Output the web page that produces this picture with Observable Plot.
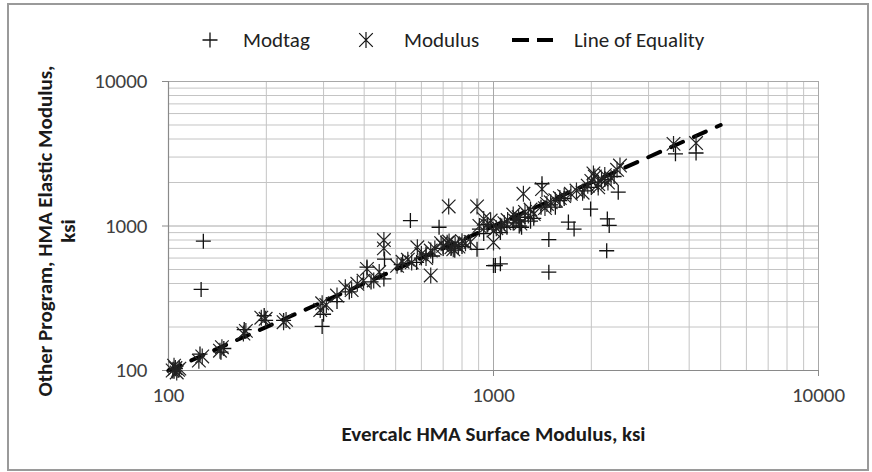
<!DOCTYPE html>
<html>
<head>
<meta charset="utf-8">
<script src="https://cdn.jsdelivr.net/npm/d3@7"></script>
<script src="https://cdn.jsdelivr.net/npm/@observablehq/plot@0.6"></script>
<style>
  html, body { margin: 0; padding: 0; background: #fff; }
  body { font-family: Carlito, Calibri, Lato, sans-serif; }
  #wrap { position: relative; width: 872px; height: 472px; overflow: hidden; background: #fff; }
  #frame { position: absolute; left: 7px; top: 3px; width: 862px; height: 468px; border: 2px solid #9a9a9a; box-sizing: border-box; pointer-events: none; }
  #legend { position: absolute; left: 0; top: 0; width: 872px; height: 60px; }
  #legend .t { position: absolute; top: 26px; font-size: 21px; color: #222; line-height: 28px; white-space: nowrap; }
  #legend svg { position: absolute; left: 0; top: 0; }
  #chart { position: absolute; left: 0; top: 60px; }
</style>
</head>
<body>
<div id="wrap">
  <div id="legend"></div>
  <div id="chart"></div>
  <div id="frame"></div>
</div>
<script>
// ---- Data ----
const modtagX = [105,104,128,126,125,145,148,171,197,199,226,297,300,330,360,408,420,460,462,555,520,580,600,620,650,680,700,740,760,780,800,890,905,933,960,1000,1013,1050,1050,1100,1150,1180,1200,1250,1300,1330,1410,1400,1480,1480,1500,1550,1700,1770,1600,1650,1990,1900,2000,2100,2200,2240,2270,2230,2420,2350,3630,4200,1060,1220];
const modtagY = [103,99,785,364,130,134,142,192,240,222,222,202,245,300,350,520,410,430,590,1090,540,560,600,640,620,980,700,700,680,740,720,690,950,887,1020,532,533,547,900,980,1050,1100,1000,1150,1080,1130,1960,1350,806,479,1400,1350,1065,952,1500,1550,1310,1750,1850,2000,2100,1120,1010,674,1715,2200,3160,3200,1000,980];

const modulusX = [103,105,107,104,106,108,124,127,146,144,170,173,193,199,226,230,293,297,306,330,350,366,381,398,408,428,445,460,460,505,525,545,560,583,600,620,641,641,660,690,700,720,730,742,752,762,780,800,820,850,728,890,905,933,955,980,1000,1000,1020,1050,1080,1105,1150,1165,1195,1210,1236,1250,1280,1300,1330,1410,1440,1460,1500,1550,1600,1650,1730,1800,1880,1950,2000,2030,2050,2100,2150,2200,2250,2300,2400,2450,2100,3580,4200];
const modulusY = [100,104,101,108,97,103,117,125,145,137,180,188,232,228,216,224,262,292,284,330,377,360,398,418,505,420,480,800,700,530,565,585,560,712,640,600,676,455,700,760,730,766,780,712,690,745,720,785,760,775,1366,1366,1000,1120,1010,1090,930,770,965,1005,1045,1100,1200,1090,1150,1040,1670,1250,1180,1300,1210,1800,1330,1420,1460,1510,1560,1610,1670,1760,1700,1900,2050,2310,2200,1950,2100,2250,2000,2150,2450,2620,1850,3700,3750];

const equalityX = [100, 5000];
const equalityY = [100, 5000];

const majorTicks = [100, 1000, 10000];
const tickLabels = ["100", "1000", "10000"];
const minorMultipliers = [2, 3, 4, 5, 6, 7, 8, 9];

const seriesNames = ["Modtag", "Modulus", "Line of Equality"];
const xTitle = "Evercalc HMA Surface Modulus, ksi";
const yTitle = "Other Program, HMA Elastic Modulus,\nksi";

// ---- Build tables ----
const modtag = modtagX.map((x, i) => ({x, y: modtagY[i]}));
const modulus = modulusX.map((x, i) => ({x, y: modulusY[i]}));
const equality = equalityX.map((x, i) => ({x, y: equalityY[i]}));
const minorGrid = [100, 1000].flatMap(d => minorMultipliers.map(k => k * d));

// ---- Custom stroke symbols (Excel-like markers) ----
const plusSymbol = {
  draw(ctx, size) {
    const r = Math.sqrt(size / Math.PI);
    ctx.moveTo(-r, 0); ctx.lineTo(r, 0);
    ctx.moveTo(0, -r); ctx.lineTo(0, r);
  }
};
const starSymbol = {
  draw(ctx, size) {
    const r = Math.sqrt(size / Math.PI);
    const a = r * 0.85;
    ctx.moveTo(0, -r); ctx.lineTo(0, r);
    ctx.moveTo(-a, -a); ctx.lineTo(a, a);
    ctx.moveTo(-a, a); ctx.lineTo(a, -a);
  }
};

const font = "Carlito, Calibri, Lato, sans-serif";

const chart = Plot.plot({
  width: 872,
  height: 412,
  marginTop: 21,
  marginBottom: 102,
  marginLeft: 168,
  marginRight: 54,
  style: { fontFamily: font, fontSize: "21px", color: "#404040", background: "transparent" },
  x: { type: "log", domain: [100, 10000] },
  y: { type: "log", domain: [100, 10000] },
  marks: [
    Plot.ruleX(minorGrid, { stroke: "#c4c4c4", strokeWidth: 1 }),
    Plot.ruleY(minorGrid, { stroke: "#c4c4c4", strokeWidth: 1 }),
    Plot.ruleX(majorTicks, { stroke: "#a8a8a8", strokeWidth: 1 }),
    Plot.ruleY(majorTicks, { stroke: "#a8a8a8", strokeWidth: 1 }),
    Plot.ruleX([100], { stroke: "#8a8a8a", strokeWidth: 1.2 }),
    Plot.ruleY([100], { stroke: "#8a8a8a", strokeWidth: 1.2 }),
    Plot.axisX(majorTicks, {
      tickFormat: (d) => tickLabels[majorTicks.indexOf(d)],
      tickSize: 6, tickPadding: 11, stroke: "#8a8a8a", fill: "#404040",
      fontSize: 21, label: null
    }),
    Plot.axisY(majorTicks, {
      tickFormat: (d) => tickLabels[majorTicks.indexOf(d)],
      tickSize: 6, tickPadding: 15, stroke: "#8a8a8a", fill: "#404040",
      fontSize: 21, label: null
    }),
    Plot.line(equality, {
      x: "x", y: "y", stroke: "#000", strokeWidth: 4,
      strokeDasharray: "13,12", strokeLinecap: "round"
    }),
    Plot.dot(modtag, {
      x: "x", y: "y", symbol: plusSymbol, r: 7.5,
      stroke: "#111", strokeWidth: 1.3, fill: "none"
    }),
    Plot.dot(modulus, {
      x: "x", y: "y", symbol: starSymbol, r: 8,
      stroke: "#222", strokeWidth: 1.2, fill: "none"
    }),
    Plot.text([xTitle], {
      frameAnchor: "bottom", dy: 70, text: d => d, textAnchor: "middle",
      fontWeight: "bold", fontSize: 21, fill: "#1a1a1a"
    }),
    Plot.text([yTitle], {
      frameAnchor: "left", dx: -112, dy: 5, rotate: -90, text: d => d,
      textAnchor: "middle", lineAnchor: "middle",
      fontWeight: "bold", fontSize: 21, fill: "#1a1a1a", lineHeight: 1.08
    })
  ]
});
document.getElementById("chart").appendChild(chart);

// ---- Legend (HTML/SVG above the plot) ----
const legend = document.getElementById("legend");
const ns = "http://www.w3.org/2000/svg";
const lsvg = document.createElementNS(ns, "svg");
lsvg.setAttribute("width", 872);
lsvg.setAttribute("height", 60);
function pathEl(d, sw) {
  const p = document.createElementNS(ns, "path");
  p.setAttribute("d", d);
  p.setAttribute("stroke", "#111");
  p.setAttribute("stroke-width", sw);
  p.setAttribute("fill", "none");
  lsvg.appendChild(p);
}
const cy = 40;
// plus
pathEl(`M${210-7.5},${cy}H${210+7.5}M210,${cy-7.5}V${cy+7.5}`, 1.3);
// star
{
  const cx = 366, r = 8, a = 6.8;
  pathEl(`M${cx},${cy-r}V${cy+r}M${cx-a},${cy-a}L${cx+a},${cy+a}M${cx-a},${cy+a}L${cx+a},${cy-a}`, 1.2);
}
// dashed line
{
  const l = document.createElementNS(ns, "line");
  l.setAttribute("x1", 512); l.setAttribute("x2", 553);
  l.setAttribute("y1", cy); l.setAttribute("y2", cy);
  l.setAttribute("stroke", "#000"); l.setAttribute("stroke-width", 4);
  l.setAttribute("stroke-dasharray", "17,8");
  lsvg.appendChild(l);
}
legend.appendChild(lsvg);
const labelPos = [243, 404, 574];
seriesNames.forEach((name, i) => {
  const t = document.createElement("div");
  t.className = "t";
  t.style.left = labelPos[i] + "px";
  t.textContent = name;
  legend.appendChild(t);
});
</script>
</body>
</html>
